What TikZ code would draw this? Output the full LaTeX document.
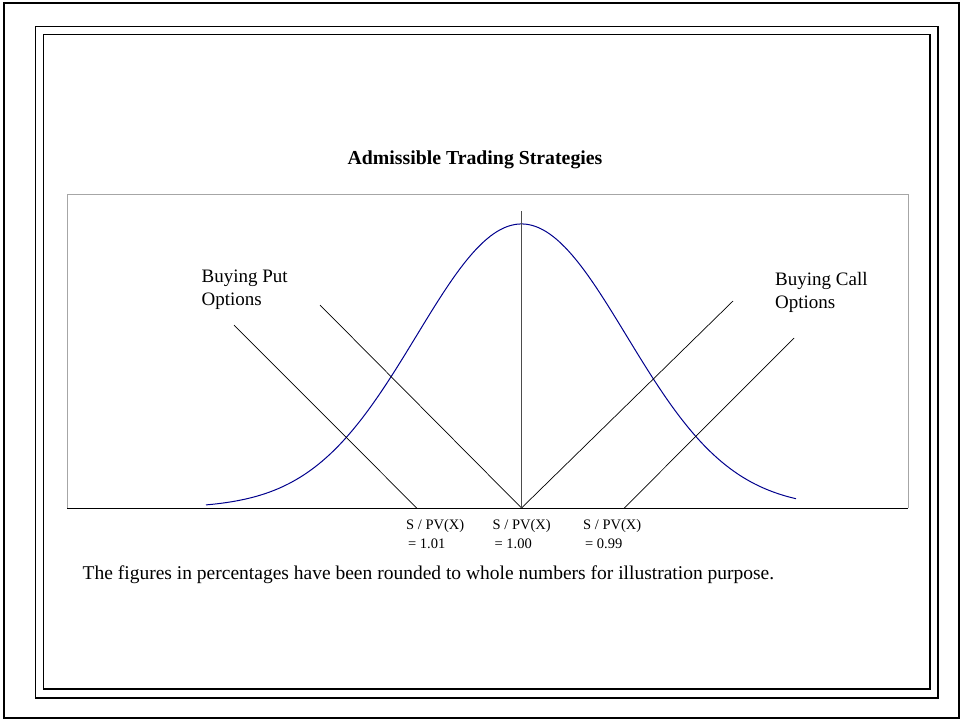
\documentclass[tikz,border=0pt]{standalone}
\usepackage{fontspec}
\setmainfont{Liberation Serif}
\begin{document}
\begin{tikzpicture}[x=1pt,y=-1pt,
  frame/.style={line width=1.3pt,draw=black},
  plotbox/.style={draw=gray!70,line width=1pt},
  axisline/.style={draw=black,line width=1pt},
  payoff/.style={draw=black,line width=0.7pt},
  bell/.style={draw={rgb,255:red,0;green,0;blue,140},line width=1pt},
  lbl/.style={font=\fontsize{19}{23}\selectfont,align=left,inner sep=0pt,anchor=base west},
  notestyle/.style={font=\fontsize{19.5}{23}\selectfont,inner sep=0pt,anchor=base west},
  ticklbl/.style={font=\fontsize{14.5}{19}\selectfont,align=left,inner sep=0pt,anchor=base west},
  titlestyle/.style={font=\fontsize{19.8}{23}\selectfont\bfseries,inner sep=0pt,anchor=base}
]
\useasboundingbox (0,0) rectangle (961,721);
% frames
\draw[line width=1.6pt] (4,3) rectangle (959,718);
\draw[frame] (35.5,26.5) rectangle (938,698);
\draw[frame] (43.5,34.5) rectangle (930,689);
% plot box
\draw[plotbox] (67,508) -- (67,194) -- (908,194) -- (908,508);
\coordinate (axL) at (67,508);
\coordinate (axR) at (908,508);
\draw[axisline] (axL) -- (axR);
% axis points
\coordinate (p101) at (416.7,508);
\coordinate (p100) at (521.5,508);
\coordinate (p099) at (624.3,508);
% line tops
\coordinate (put1) at (234,325);
\coordinate (put2) at (320,305);
\coordinate (call1) at (733,301);
\coordinate (call2) at (794,338);
\coordinate (vtop) at (521.5,211);
% bell curve
\draw[bell] plot[domain=206:796,samples=200,smooth] (\x,{508-284*exp(-0.5*((\x-521.5)/105)^2)});
% payoff lines
\draw[payoff] (put1) -- (p101);
\draw[payoff] (put2) -- (p100);
\draw[payoff] (p100) -- (call1);
\draw[payoff] (p099) -- (call2);
\draw[payoff,draw=black!70,line width=1pt] (p100) -- (vtop);
% texts
\node[titlestyle] (title) at (475,164) {Admissible Trading Strategies};
\node[lbl] (putlbl) at (201.5,305) {Buying Put\\Options};
\node[lbl] (calllbl) at (775,308) {Buying Call\\Options};
\node[ticklbl] (t101) at (406,548.5) {S / PV(X)\\\hspace{2pt}= 1.01};
\node[ticklbl] (t100) at (492.5,548.5) {S / PV(X)\\\hspace{2pt}= 1.00};
\node[ticklbl] (t099) at (583,548.5) {S / PV(X)\\\hspace{2pt}= 0.99};
\node[notestyle] (note) at (82.5,579) {The figures in percentages have been rounded to whole numbers for illustration purpose.};
\end{tikzpicture}
\end{document}
